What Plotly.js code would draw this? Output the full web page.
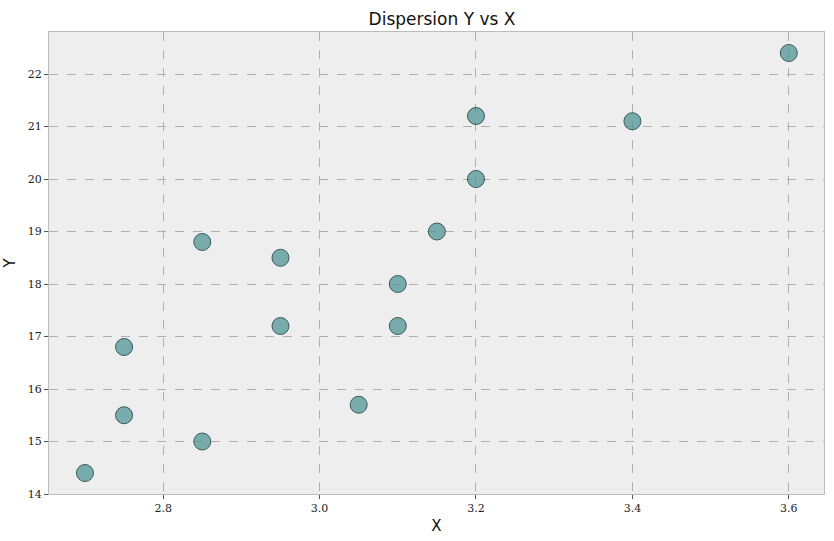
<!DOCTYPE html>
<html>
<head>
<meta charset="utf-8">
<script src="https://cdn.plot.ly/plotly-3.0.1.min.js"></script>
<style>
  html, body { margin: 0; padding: 0; background: #fff; }
  #chart { width: 834px; height: 541px; }
</style>
</head>
<body>
<div id="chart"></div>
<script>
// scatter points
const xVals = [2.7, 2.75, 2.75, 2.85, 2.85, 2.95, 2.95, 3.05, 3.1, 3.1, 3.15, 3.2, 3.2, 3.4, 3.6];
const yVals = [14.4, 15.5, 16.8, 15.0, 18.8, 17.2, 18.5, 15.7, 17.2, 18.0, 19.0, 20.0, 21.2, 21.1, 22.4];
const xTicks = [2.8, 3.0, 3.2, 3.4, 3.6];
const yTicks = [14, 15, 16, 17, 18, 19, 20, 21, 22];

const trace = {
  x: xVals, y: yVals, type: 'scatter', mode: 'markers',
  marker: { size: 17, color: 'rgba(80,150,150,0.75)', line: { color: '#3d5a5a', width: 1 } },
  hoverinfo: 'x+y'
};

const axisBase = {
  showgrid: true, gridcolor: '#b0b0b0', griddash: 'dash', gridwidth: 0.8,
  zeroline: false, showline: true, linecolor: '#bcbcbc', mirror: true,
  ticks: 'outside', ticklen: 4, tickcolor: '#555',
  tickfont: { family: 'DejaVu Serif', size: 11, color: '#222' }
};

const layout = {
  width: 834, height: 541,
  paper_bgcolor: '#ffffff', plot_bgcolor: '#eeeeee',
  margin: { l: 49, r: 10, t: 32, b: 47 },
  title: { text: 'Dispersion Y vs X', x: 0.53, y: 0.975, font: { family: 'DejaVu Sans', size: 17, color: '#111' } },
  xaxis: Object.assign({}, axisBase, {
    range: [2.654, 3.645], tickvals: xTicks, ticktext: xTicks.map(v => v.toFixed(1)),
    title: { text: 'X', standoff: 6, font: { family: 'DejaVu Sans', size: 15, color: '#111' } }
  }),
  yaxis: Object.assign({}, axisBase, {
    range: [14, 22.8], tickvals: yTicks,
    title: { text: 'Y', standoff: 8, font: { family: 'DejaVu Sans', size: 15, color: '#111' } }
  }),
  showlegend: false
};

Plotly.newPlot('chart', [trace], layout, { displayModeBar: false });
</script>
</body>
</html>
